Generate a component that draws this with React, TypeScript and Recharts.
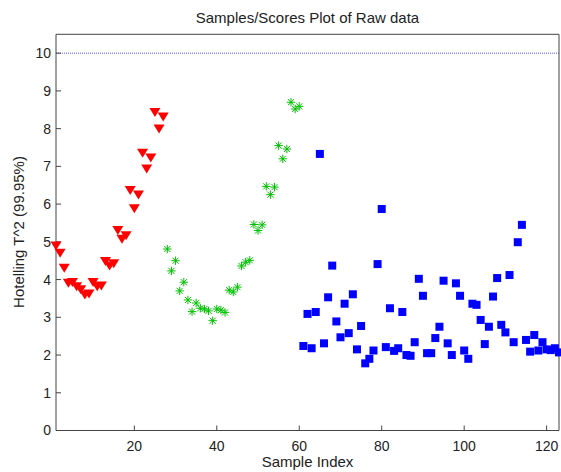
import { ScatterChart, Scatter, XAxis, YAxis, ReferenceLine } from "recharts"

// Hotelling T^2 per sample, three groups of consecutive samples
const redStart = 1
const redValues = [
  4.89, 4.7, 4.3, 3.9, 3.92, 3.81, 3.73, 3.59, 3.62, 3.92, 3.81, 3.83, 4.48, 4.36,
  4.42, 5.3, 5.07, 5.16, 6.36, 5.88, 6.24, 7.35, 6.93, 7.22, 8.43, 7.99, 8.31,
]
const greenStart = 28
const greenValues = [
  4.81, 4.23, 4.5, 3.7, 3.93, 3.46, 3.15, 3.38, 3.24, 3.22, 3.17, 2.91, 3.22, 3.19,
  3.13, 3.72, 3.67, 3.8, 4.36, 4.46, 4.51, 5.46, 5.3, 5.45, 6.47, 6.25, 6.45, 7.55,
  7.2, 7.46, 8.7, 8.52, 8.59,
]
const blueStart = 61
const blueValues = [
  2.24, 3.09, 2.18, 3.14, 7.33, 2.31, 3.53, 4.37, 2.89, 2.47, 3.36, 2.58, 3.61, 2.15,
  2.77, 1.78, 1.9, 2.12, 4.41, 5.87, 2.21, 3.24, 2.11, 2.18, 3.14, 2.0, 1.98, 2.34,
  4.02, 3.57, 2.05, 2.05, 2.45, 2.75, 3.97, 2.31, 2.0, 3.9, 3.57, 2.12, 1.9, 3.36,
  3.33, 2.93, 2.29, 2.75, 3.55, 4.04, 2.8, 2.6, 4.12, 2.34, 4.99, 5.45, 2.4, 2.09,
  2.53, 2.12, 2.34, 2.15, 2.13, 2.18, 2.07,
]
const limitValue = 10
const xTicks = [20, 40, 60, 80, 100, 120]
const yTicks = [0, 1, 2, 3, 4, 5, 6, 7, 8, 9, 10]

const toPoints = (start: number, values: number[]) =>
  values.map((y, i) => ({ x: start + i, y }))

const redData = toPoints(redStart, redValues)
const greenData = toPoints(greenStart, greenValues)
const blueData = toPoints(blueStart, blueValues)

const FONT = "'Liberation Sans', Arial, Helvetica, sans-serif"
const AXIS = "#444"
const TEXT = "#222"

const DownTriangle = (props: any) => {
  const { cx, cy } = props
  return (
    <polygon
      points={`${cx - 5.5},${cy - 4.5} ${cx + 5.5},${cy - 4.5} ${cx},${cy + 4.5}`}
      fill="#ff0000"
    />
  )
}

const Star = (props: any) => {
  const { cx, cy } = props
  const r = 4.2
  const d = r * 0.72
  return (
    <g stroke="#00c000" strokeWidth={1}>
      <line x1={cx - r} y1={cy} x2={cx + r} y2={cy} />
      <line x1={cx} y1={cy - r} x2={cx} y2={cy + r} />
      <line x1={cx - d} y1={cy - d} x2={cx + d} y2={cy + d} />
      <line x1={cx - d} y1={cy + d} x2={cx + d} y2={cy - d} />
    </g>
  )
}

const Square = (props: any) => {
  const { cx, cy } = props
  return <rect x={cx - 4} y={cy - 4} width={8} height={8} fill="#0000ff" />
}

const Title = () => (
  <text x={307.5} y={23} textAnchor="middle" fontSize={15} fill={TEXT} fontFamily={FONT}>
    Samples/Scores Plot of Raw data
  </text>
)

const XTitle = () => (
  <text x={307.5} y={467} textAnchor="middle" fontSize={15} fill={TEXT} fontFamily={FONT}>
    Sample Index
  </text>
)

const YTitle = () => (
  <text
    x={24}
    y={232}
    transform="rotate(-90 24 232)"
    textAnchor="middle"
    fontSize={15}
    fill={TEXT}
    fontFamily={FONT}
  >
    Hotelling T^2 (99.95%)
  </text>
)

export default function App() {
  const tick = { fontSize: 14, fill: TEXT, fontFamily: FONT }
  return (
    <div style={{ position: "absolute", left: 0, top: 0, background: "#fff" }}>
      <ScatterChart width={561} height={472} margin={{ top: 4, right: 0, bottom: 0, left: 0 }}>
        <XAxis
          xAxisId={0}
          dataKey="x"
          type="number"
          domain={[1, 123]}
          ticks={xTicks}
          height={41.5}
          tickSize={-5}
          tickMargin={15.5}
          tick={tick}
          axisLine={{ stroke: AXIS }}
          tickLine={{ stroke: AXIS }}
          label={{ content: XTitle }}
        />
        <XAxis
          xAxisId="top"
          orientation="top"
          type="number"
          domain={[1, 123]}
          ticks={xTicks}
          height={30.3}
          tickSize={-5}
          tick={false}
          axisLine={{ stroke: AXIS }}
          tickLine={{ stroke: AXIS }}
          label={{ content: Title }}
        />
        <YAxis
          yAxisId={0}
          dataKey="y"
          type="number"
          domain={[0, 10.5]}
          ticks={yTicks}
          width={56}
          tickSize={-5}
          tickMargin={10}
          tick={tick}
          axisLine={{ stroke: AXIS }}
          tickLine={{ stroke: AXIS }}
          label={{ content: YTitle }}
        />
        <YAxis
          yAxisId="right"
          orientation="right"
          type="number"
          domain={[0, 10.5]}
          ticks={yTicks}
          width={2}
          tickSize={-5}
          tick={false}
          axisLine={{ stroke: AXIS }}
          tickLine={{ stroke: AXIS }}
        />
        <ReferenceLine
          y={limitValue}
          xAxisId={0}
          yAxisId={0}
          stroke="#5555ff"
          strokeDasharray="1 1"
          strokeWidth={1}
        />
        <Scatter data={redData} shape={DownTriangle} isAnimationActive={false} />
        <Scatter data={greenData} shape={Star} isAnimationActive={false} />
        <Scatter data={blueData} shape={Square} isAnimationActive={false} />
      </ScatterChart>
    </div>
  )
}
